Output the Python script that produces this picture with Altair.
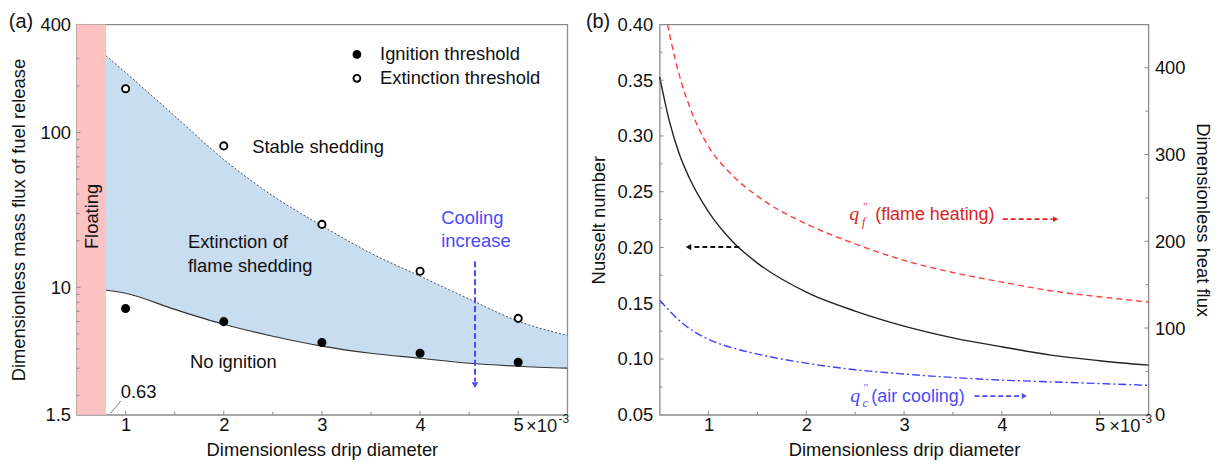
import altair as alt
import pandas as pd

FONT = "Liberation Sans"
SERIF = "Liberation Serif"
FS = 18.5

# ---------------- panel (a) data ----------------
ign_x = [1, 2, 3, 4, 5]
ign_y = [7.3, 6.0, 4.4, 3.75, 3.28]
ext_x = [1, 2, 3, 4, 5]
ext_y = [192, 82, 25.5, 12.7, 6.3]
band_x = [0.8, 1.0, 1.5, 2.0, 2.5, 3.0, 3.5, 4.0, 4.5, 5.0, 5.5]
upper_y = [314, 244, 128, 67, 39, 25, 16.6, 11.8, 8.4, 6.04, 4.9]
lower_y = [9.57, 9.15, 7.2, 5.77, 4.83, 4.17, 3.75, 3.48, 3.23, 3.09, 3.0]
floating_x = [0.5, 0.8]
a_xticks = [1, 2, 3, 4, 5]
a_xminor = [1.5, 2.5, 3.5, 4.5]
a_yticks = [1.5, 10, 100, 500]
a_ylabels = ["1.5", "10", "100", "400"]
a_yminor = [2, 3, 4, 5, 6, 7, 8, 9, 20, 30, 40, 50, 60, 70, 80, 90, 200, 300]
series_names = ["Ignition threshold", "Extinction threshold"]

# ---------------- panel (b) data ----------------
nu_x = [0.5, 0.6, 0.7, 0.8, 1.0, 1.25, 1.5, 2.0, 2.5, 3.0, 3.5, 4.0, 4.5, 5.0, 5.5]
nu_y = [0.353, 0.313, 0.284, 0.263, 0.232, 0.205, 0.186, 0.160, 0.143, 0.1295, 0.119, 0.111, 0.1035, 0.0985, 0.0945]
qf_x = [0.58, 0.65, 0.72, 0.8, 0.9, 1.0, 1.2, 1.5, 2.0, 2.5, 3.0, 3.5, 4.0, 4.5, 5.0, 5.5]
qf_y = [450, 414, 384, 357, 330, 309, 281, 252, 220, 197, 178, 164, 153, 143, 136, 130]
qc_x = [0.5, 0.75, 1.0, 1.25, 1.5, 2.0, 2.5, 3.0, 3.5, 4.0, 4.5, 5.0, 5.5]
qc_y = [132, 104, 87, 77, 70, 59.5, 52, 47, 43, 40, 38, 36, 34]
b_xticks = [1, 2, 3, 4, 5]
b_xminor = [1.5, 2.5, 3.5, 4.5]
b_lticks = [0.05, 0.10, 0.15, 0.20, 0.25, 0.30, 0.35, 0.40]
b_lminor = [0.075, 0.125, 0.175, 0.225, 0.275, 0.325, 0.375]
b_rticks = [0, 100, 200, 300, 400]
b_rminor = [50, 150, 250, 350]

WA, WB, H = 494, 492, 393
GREY = "#8a8a8a"

xs_a = alt.Scale(domain=[0.5, 5.5], nice=False, zero=False)
ys_a = alt.Scale(type="log", domain=[1.5, 500], nice=False)


def D(**kw):
    return pd.DataFrame(kw)


def xa(field="x"):
    return alt.X(f"{field}:Q", scale=xs_a)


def ya(field="y"):
    return alt.Y(f"{field}:Q", scale=ys_a)


label_map = "{" + ",".join(f"'{v}':'{l}'" for v, l in zip(a_yticks, a_ylabels)) + "}"

# ---- floating band (carries the axes)
floating = alt.Chart(D(x=[floating_x[0]], x2=[floating_x[1]], y=[1.5], y2=[500])).mark_rect(
    color="#fcc1c1"
).encode(
    x=alt.X("x:Q", scale=xs_a, axis=alt.Axis(values=a_xticks, format="d", title="Dimensionless drip diameter",
                                             labelPadding=1, titlePadding=6)),
    x2="x2:Q",
    y=alt.Y("y:Q", scale=ys_a, axis=alt.Axis(values=a_yticks, labelExpr=f"{label_map}[''+datum.value]",
                                             title="Dimensionless mass flux of fuel release",
                                             labelPadding=6, titlePadding=12)),
    y2="y2:Q",
)

band_df = D(x=band_x, lo=lower_y, hi=upper_y)
band = alt.Chart(band_df).mark_area(color="#c8ddf0", interpolate="monotone").encode(
    x=xa(), y=ya("lo"), y2="hi:Q")
upper = alt.Chart(band_df).mark_line(color="#4a5060", strokeDash=[2, 2], strokeWidth=1, interpolate="monotone").encode(
    x=xa(), y=ya("hi"))
lower = alt.Chart(band_df).mark_line(color="#333", strokeWidth=1.2, interpolate="monotone").encode(
    x=xa(), y=ya("lo"))

pts_df = D(x=ign_x + ext_x, y=ign_y + ext_y, s=[series_names[0]] * 5 + [series_names[1]] * 5)
points = alt.Chart(pts_df).mark_point(shape="circle", filled=True, size=52, stroke="black", strokeWidth=1.9,
                                       opacity=1).encode(
    x=xa(), y=ya(),
    fill=alt.Fill("s:N", scale=alt.Scale(domain=series_names, range=["black", "white"]),
                  legend=alt.Legend(orient="none", legendX=273, legendY=21, title=None, labelFont=FONT,
                                    labelFontSize=FS, labelColor="#111", symbolType="circle", symbolSize=48,
                                    symbolStrokeColor="black", symbolStrokeWidth=1.9, labelOffset=14,
                                    labelLimit=400, rowPadding=5, padding=0)),
)

# inward ticks
a_tick_x_major = alt.Chart(D(x=a_xticks)).mark_rule(color=GREY).encode(
    x=xa(), y=alt.value(H), y2=alt.value(H - 4))
a_tick_x_minor = alt.Chart(D(x=a_xminor)).mark_rule(color=GREY).encode(
    x=xa(), y=alt.value(H), y2=alt.value(H - 3))
a_tick_y_major = alt.Chart(D(y=[10, 100])).mark_rule(color=GREY).encode(
    y=ya(), x=alt.value(0), x2=alt.value(4))
a_tick_y_minor = alt.Chart(D(y=a_yminor)).mark_rule(color=GREY).encode(
    y=ya(), x=alt.value(0), x2=alt.value(3))

txt_a = alt.Chart(D(
    x=[2.29, 1.635, 1.635, 1.655, 0.95],
    y=[74.3, 17.9, 12.5, 3.0, 1.92],
    t=["Stable shedding", "Extinction of", "flame shedding", "No ignition", "0.63"],
)).mark_text(align="left", baseline="alphabetic", font=FONT, fontSize=FS, color="#111").encode(
    x=xa(), y=ya(), text="t:N")
txt_cool = alt.Chart(D(x=[4.216, 4.216], y=[25.5, 18.1], t=["Cooling", "increase"])).mark_text(
    align="left", baseline="alphabetic", font=FONT, fontSize=FS, color="#4a4aff").encode(
    x=xa(), y=ya(), text="t:N")
txt_float = alt.Chart(D(x=[0.657], y=[28.7], t=["Floating"])).mark_text(
    align="center", baseline="middle", angle=270, font=FONT, fontSize=FS, color="#111").encode(
    x=xa(), y=ya(), text="t:N")
leader = alt.Chart(D(x=[0.85], x2=[0.95], y=[1.54], y2=[1.84])).mark_rule(color="#777").encode(
    x=xa(), x2="x2:Q", y=ya(), y2="y2:Q")
cool_arrow = alt.Chart(D(x=[4.56], y=[14.7], y2=[2.45])).mark_rule(
    color="#4a4aff", strokeWidth=2, strokeDash=[6, 3]).encode(x=xa(), y=ya(), y2="y2:Q")
cool_head = alt.Chart(D(x=[4.56], y=[2.33])).mark_point(shape="triangle-down", filled=True, size=45,
                                                       color="#4a4aff", opacity=1).encode(x=xa(), y=ya())
exp_a = alt.Chart(D(x=[5.08], t=["×10"])).mark_text(align="left", baseline="middle", font=FONT, fontSize=FS,
                                                     color="#222").encode(x=xa(), y=alt.value(H + 11), text="t:N")
exp_a2 = alt.Chart(D(x=[5.41], t=["-3"])).mark_text(align="left", baseline="middle", font=FONT, fontSize=12,
                                                     color="#222").encode(x=xa(), y=alt.value(H + 4), text="t:N")
lab_a = alt.Chart(D(t=["(a)"])).mark_text(align="center", baseline="middle", font=FONT, fontSize=20,
                                           color="#111").encode(x=alt.value(-56), y=alt.value(-2), text="t:N")

panel_a = alt.layer(floating, band, upper, lower, a_tick_x_major, a_tick_x_minor, a_tick_y_major,
                    a_tick_y_minor, txt_a, txt_cool, txt_float, leader, cool_arrow, cool_head, points,
                    exp_a, exp_a2, lab_a).properties(width=WA, height=H)

# ---------------- panel (b) ----------------
xs_b = alt.Scale(domain=[0.5, 5.5], nice=False, zero=False)
yl = alt.Scale(domain=[0.05, 0.40], nice=False, zero=False)
yr = alt.Scale(domain=[0, 450], nice=False)


def xb(field="x"):
    return alt.X(f"{field}:Q", scale=xs_b)


def ybl(field="y"):
    return alt.Y(f"{field}:Q", scale=yl)


def ybr(field="y"):
    return alt.Y(f"{field}:Q", scale=yr)


nu_line = alt.Chart(D(x=nu_x, y=nu_y)).mark_line(color="#222", strokeWidth=1.4, interpolate="monotone").encode(
    x=alt.X("x:Q", scale=xs_b, axis=alt.Axis(values=b_xticks, format="d", title="Dimensionless drip diameter",
                                             labelPadding=1, titlePadding=6)),
    y=alt.Y("y:Q", scale=yl, axis=alt.Axis(values=b_lticks, format=".2f", title="Nusselt number", orient="left",
                                           labelPadding=7, titlePadding=9)),
)
b_tx_major = alt.Chart(D(x=b_xticks)).mark_rule(color=GREY).encode(x=xb(), y=alt.value(H), y2=alt.value(H - 4))
b_tx_minor = alt.Chart(D(x=b_xminor)).mark_rule(color=GREY).encode(x=xb(), y=alt.value(H), y2=alt.value(H - 3))
b_tl_major = alt.Chart(D(y=b_lticks[1:-1])).mark_rule(color=GREY).encode(y=ybl(), x=alt.value(0), x2=alt.value(4))
b_tl_minor = alt.Chart(D(y=b_lminor)).mark_rule(color=GREY).encode(y=ybl(), x=alt.value(0), x2=alt.value(3))

black_arrow = alt.Chart(D(x=[1.313], x2=[0.83], y=[0.2004])).mark_rule(
    color="#111", strokeWidth=2, strokeDash=[5, 3]).encode(x=xb(), x2="x2:Q", y=ybl())
black_head = alt.Chart(D(x=[0.795], y=[0.2004])).mark_point(shape="triangle-left", filled=True, size=40,
                                                           color="#111", opacity=1).encode(x=xb(), y=ybl())
RED_T = "#d81e1e"
BLUE_T = "#4a4aff"
qf_q = alt.Chart(D(x=[2.49], y=[0.2245], t=["q"])).mark_text(
    align="center", baseline="alphabetic", font=SERIF, fontStyle="italic", fontSize=20, color=RED_T).encode(
    x=xb(), y=ybl(), text="t:N")
qf_sub = alt.Chart(D(x=[2.57], y=[0.2195], t=["f"])).mark_text(
    align="left", baseline="alphabetic", font=SERIF, fontStyle="italic", fontSize=12, color=RED_T).encode(
    x=xb(), y=ybl(), text="t:N")
qf_sup = alt.Chart(D(x=[2.575], y=[0.234], t=["''"])).mark_text(
    align="left", baseline="alphabetic", font=SERIF, fontStyle="italic", fontSize=11, color=RED_T).encode(
    x=xb(), y=ybl(), text="t:N")
qf_txt = alt.Chart(D(x=[2.705], y=[0.2245], t=["(flame heating)"])).mark_text(
    align="left", baseline="alphabetic", font=FONT, fontSize=18, color=RED_T).encode(x=xb(), y=ybl(), text="t:N")
qf_arrow = alt.Chart(D(x=[4.01], x2=[4.52], y=[0.2254])).mark_rule(
    color=RED_T, strokeWidth=1.8, strokeDash=[5, 3]).encode(x=xb(), x2="x2:Q", y=ybl())
qf_head = alt.Chart(D(x=[4.55], y=[0.2254])).mark_point(shape="triangle-right", filled=True, size=35,
                                                       color=RED_T, opacity=1).encode(x=xb(), y=ybl())
qc_q = alt.Chart(D(x=[2.50], y=[0.0614], t=["q"])).mark_text(
    align="center", baseline="alphabetic", font=SERIF, fontStyle="italic", fontSize=20, color=BLUE_T).encode(
    x=xb(), y=ybl(), text="t:N")
qc_sub = alt.Chart(D(x=[2.575], y=[0.0568], t=["c"])).mark_text(
    align="left", baseline="alphabetic", font=SERIF, fontStyle="italic", fontSize=12, color=BLUE_T).encode(
    x=xb(), y=ybl(), text="t:N")
qc_sup = alt.Chart(D(x=[2.58], y=[0.0712], t=["''"])).mark_text(
    align="left", baseline="alphabetic", font=SERIF, fontStyle="italic", fontSize=11, color=BLUE_T).encode(
    x=xb(), y=ybl(), text="t:N")
qc_txt = alt.Chart(D(x=[2.665], y=[0.0614], t=["(air cooling)"])).mark_text(
    align="left", baseline="alphabetic", font=FONT, fontSize=18, color=BLUE_T).encode(x=xb(), y=ybl(), text="t:N")
qc_arrow = alt.Chart(D(x=[3.72], x2=[4.2], y=[0.0668])).mark_rule(
    color=BLUE_T, strokeWidth=1.8, strokeDash=[5, 3]).encode(x=xb(), x2="x2:Q", y=ybl())
qc_head = alt.Chart(D(x=[4.23], y=[0.0668])).mark_point(shape="triangle-right", filled=True, size=35,
                                                       color=BLUE_T, opacity=1).encode(x=xb(), y=ybl())
exp_b = alt.Chart(D(x=[5.10], t=["×10"])).mark_text(align="left", baseline="middle", font=FONT, fontSize=FS,
                                                     color="#222").encode(x=xb(), y=alt.value(H + 11), text="t:N")
exp_b2 = alt.Chart(D(x=[5.43], t=["-3"])).mark_text(align="left", baseline="middle", font=FONT, fontSize=12,
                                                     color="#222").encode(x=xb(), y=alt.value(H + 4), text="t:N")
lab_b = alt.Chart(D(t=["(b)"])).mark_text(align="center", baseline="middle", font=FONT, fontSize=20,
                                           color="#111").encode(x=alt.value(-62), y=alt.value(-2), text="t:N")

left_group = alt.layer(nu_line, b_tx_major, b_tx_minor, b_tl_major, b_tl_minor, black_arrow, black_head,
                       qf_q, qf_sub, qf_sup, qf_txt, qf_arrow, qf_head, qc_q, qc_sub, qc_sup, qc_txt,
                       qc_arrow, qc_head, exp_b, exp_b2, lab_b)

qf_line = alt.Chart(D(x=qf_x, y=qf_y)).mark_line(
    color="#ff3b3b", strokeWidth=1.4, strokeDash=[6, 4], interpolate="monotone", clip=True).encode(
    x=xb(),
    y=alt.Y("y:Q", scale=yr, axis=alt.Axis(values=b_rticks, title="Dimensionless heat flux", orient="right",
                                           labelPadding=6, titlePadding=8)),
)
qc_line = alt.Chart(D(x=qc_x, y=qc_y)).mark_line(
    color="#3d3dff", strokeWidth=1.4, strokeDash=[8, 3, 2, 3], interpolate="monotone").encode(x=xb(), y=ybr())
b_tr_major = alt.Chart(D(y=b_rticks[1:])).mark_rule(color=GREY).encode(
    y=ybr(), x=alt.value(WB), x2=alt.value(WB - 4))
b_tr_minor = alt.Chart(D(y=b_rminor)).mark_rule(color=GREY).encode(
    y=ybr(), x=alt.value(WB), x2=alt.value(WB - 3))

right_group = alt.layer(qf_line, qc_line, b_tr_major, b_tr_minor)

panel_b = alt.layer(left_group, right_group).resolve_scale(y="independent").properties(width=WB, height=H)

chart = alt.hconcat(panel_a, panel_b, spacing=14).resolve_scale(fill="independent").properties(
    padding={"left": 0, "top": 2, "right": 0, "bottom": 0}
).configure(font=FONT).configure_view(stroke=GREY, strokeWidth=1.3).configure_axis(
    labelFont=FONT, titleFont=FONT, labelFontSize=FS, titleFontSize=FS, labelColor="#111", titleColor="#111",
    titleFontWeight="normal", grid=False, ticks=False, domain=False
)

chart.save("out.html", embed_options={"renderer": "svg", "actions": False})
